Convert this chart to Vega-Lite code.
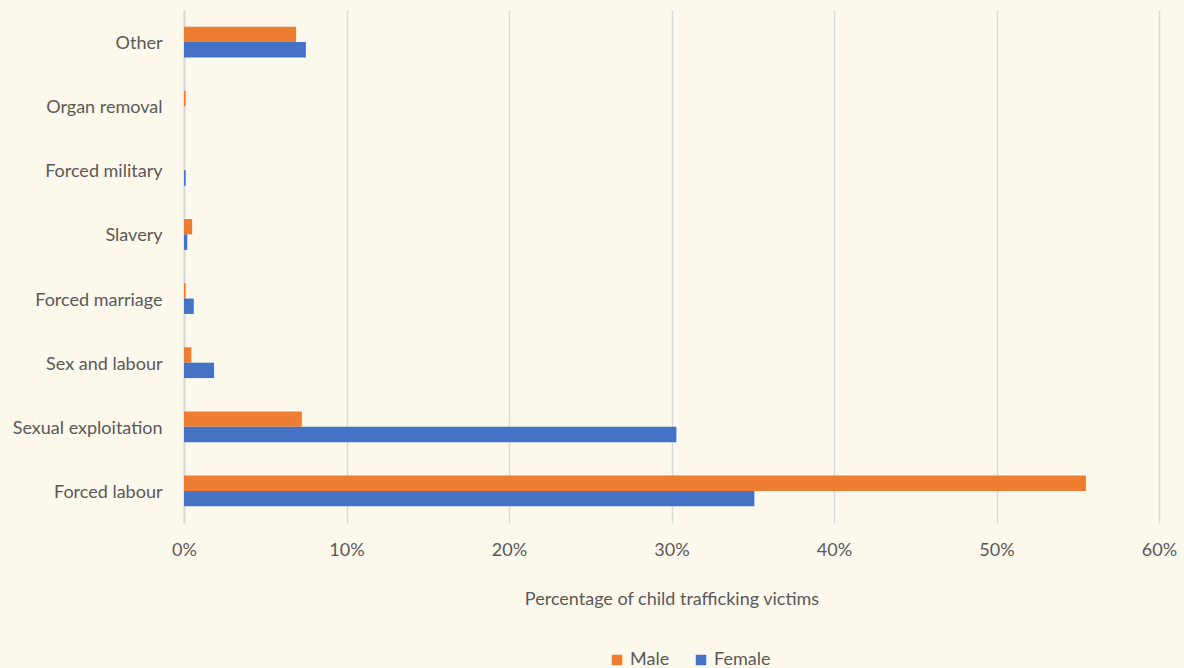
{
  "$schema": "https://vega.github.io/schema/vega-lite/v6.json",
  "autosize": {"type": "none"},
  "width": 975,
  "height": 513,
  "padding": {"left": 184, "top": 10, "right": 25, "bottom": 145},
  "background": "#fdf8ec",
  "config": {
    "view": {"stroke": null},
    "font": "Lato",
    "axis": {"labelColor": "#595959", "titleColor": "#595959", "labelFont": "Lato", "titleFont": "Lato"}
  },
  "data": {
    "values": [
      {"category": "Other", "sex": "Male", "value": 6.9},
      {"category": "Other", "sex": "Female", "value": 7.5},
      {"category": "Organ removal", "sex": "Male", "value": 0.1},
      {"category": "Organ removal", "sex": "Female", "value": 0},
      {"category": "Forced military", "sex": "Male", "value": 0},
      {"category": "Forced military", "sex": "Female", "value": 0.1},
      {"category": "Slavery", "sex": "Male", "value": 0.5},
      {"category": "Slavery", "sex": "Female", "value": 0.2},
      {"category": "Forced marriage", "sex": "Male", "value": 0.1},
      {"category": "Forced marriage", "sex": "Female", "value": 0.6},
      {"category": "Sex and labour", "sex": "Male", "value": 0.45},
      {"category": "Sex and labour", "sex": "Female", "value": 1.85},
      {"category": "Sexual exploitation", "sex": "Male", "value": 7.25},
      {"category": "Sexual exploitation", "sex": "Female", "value": 30.3},
      {"category": "Forced labour", "sex": "Male", "value": 55.5},
      {"category": "Forced labour", "sex": "Female", "value": 35.1}
    ]
  },
  "mark": {"type": "bar"},
  "encoding": {
    "y": {
      "field": "category",
      "type": "nominal",
      "sort": ["Other", "Organ removal", "Forced military", "Slavery", "Forced marriage", "Sex and labour", "Sexual exploitation", "Forced labour"],
      "scale": {"paddingInner": 0.52, "paddingOuter": 0.26},
      "axis": {
        "title": null,
        "ticks": false,
        "domain": true,
        "domainColor": "#d9d9d9",
        "domainWidth": 2,
        "labelFontSize": 18,
        "labelPadding": 22,
        "labelOffset": 2,
        "grid": false
      }
    },
    "yOffset": {"field": "sex", "type": "nominal", "sort": ["Male", "Female"]},
    "x": {
      "field": "value",
      "type": "quantitative",
      "scale": {"domain": [0, 60], "nice": false},
      "axis": {
        "values": [0, 10, 20, 30, 40, 50, 60],
        "labelExpr": "datum.value + '%'",
        "labelFlush": false,
        "title": "Percentage of child trafficking victims",
        "titleFontSize": 18,
        "titleFontWeight": "normal",
        "titlePadding": 31,
        "labelFontSize": 18,
        "labelPadding": 18,
        "ticks": false,
        "domain": false,
        "grid": true,
        "gridColor": "#d9d9d9",
        "gridWidth": 1.5
      }
    },
    "color": {
      "field": "sex",
      "type": "nominal",
      "scale": {"domain": ["Male", "Female"], "range": ["#ed7d31", "#4472c4"]},
      "legend": {
        "title": null,
        "orient": "none",
        "legendX": 424,
        "legendY": 641,
        "direction": "horizontal",
        "symbolType": "square",
        "symbolSize": 110,
        "symbolStrokeWidth": 0,
        "labelFontSize": 18,
        "labelColor": "#595959",
        "labelFont": "Lato",
        "columnPadding": 22,
        "labelOffset": 4
      }
    }
  }
}
